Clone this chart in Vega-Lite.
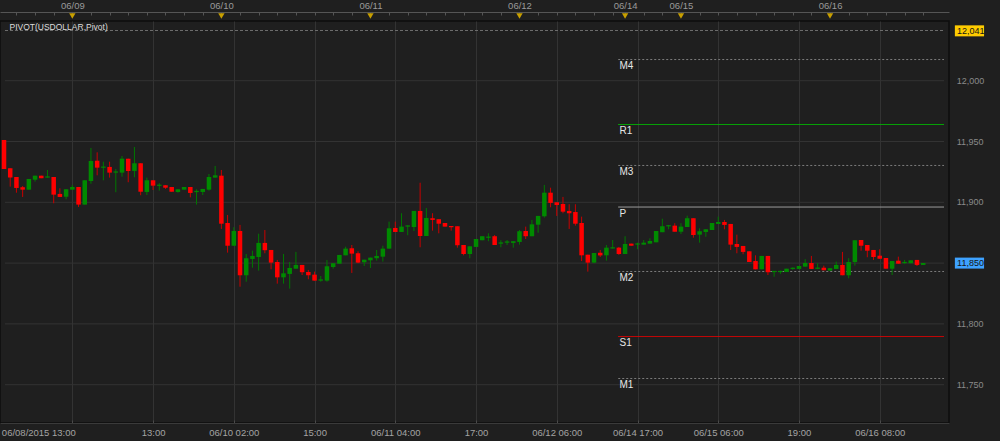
{
  "$schema": "https://vega.github.io/schema/vega-lite/v6.json",
  "width": 949,
  "height": 402,
  "autosize": {"type": "none"},
  "padding": {"left": 0, "top": 21, "right": 51, "bottom": 18},
  "background": "#1f1f1f",
  "config": {
    "view": {"stroke": "#0e0e0e", "strokeWidth": 1.5},
    "axis": {"labelFont": "Liberation Sans", "labelFontSize": 9.5, "labelColor": "#9a9a9a", "domainColor": "#505050", "tickColor": "#505050", "gridColor": "#333333", "gridWidth": 1, "labelOverlap": false, "labelFlush": false, "labelBound": false},
    "text": {"font": "Liberation Sans"}
  },
  "datasets": {
    "candles": [
      {"t":0,"o":11951.3,"h":11951.3,"l":11927.4,"c":11927.4},
      {"t":1,"o":11928.0,"h":11928.0,"l":11912.9,"c":11920.3},
      {"t":2,"o":11920.8,"h":11920.8,"l":11907.9,"c":11911.8},
      {"t":3,"o":11912.4,"h":11913.4,"l":11904.4,"c":11910.4},
      {"t":4,"o":11910.4,"h":11919.2,"l":11910.4,"c":11919.2},
      {"t":5,"o":11918.6,"h":11921.9,"l":11917.0,"c":11921.9},
      {"t":6,"o":11921.9,"h":11921.9,"l":11919.8,"c":11919.8},
      {"t":7,"o":11920.3,"h":11926.6,"l":11920.3,"c":11921.3},
      {"t":8,"o":11920.8,"h":11920.8,"l":11899.2,"c":11906.3},
      {"t":9,"o":11906.9,"h":11911.5,"l":11904.4,"c":11904.4},
      {"t":10,"o":11904.6,"h":11910.7,"l":11902.5,"c":11910.7},
      {"t":11,"o":11910.4,"h":11914.3,"l":11910.4,"c":11912.6},
      {"t":12,"o":11912.6,"h":11912.6,"l":11896.2,"c":11898.1},
      {"t":13,"o":11898.1,"h":11918.1,"l":11898.1,"c":11918.1},
      {"t":14,"o":11917.5,"h":11944.7,"l":11915.3,"c":11934.0},
      {"t":15,"o":11934.2,"h":11941.1,"l":11922.2,"c":11928.5},
      {"t":16,"o":11928.4,"h":11933.4,"l":11918.1,"c":11929.4},
      {"t":17,"o":11929.1,"h":11933.4,"l":11920.3,"c":11924.4},
      {"t":18,"o":11924.4,"h":11927.4,"l":11908.3,"c":11925.4},
      {"t":19,"o":11924.4,"h":11938.1,"l":11921.1,"c":11935.9},
      {"t":20,"o":11935.9,"h":11935.9,"l":11916.5,"c":11925.8},
      {"t":21,"o":11925.8,"h":11945.5,"l":11920.6,"c":11932.1},
      {"t":22,"o":11932.1,"h":11932.1,"l":11905.8,"c":11908.7},
      {"t":23,"o":11908.5,"h":11920.3,"l":11906.0,"c":11918.1},
      {"t":24,"o":11918.1,"h":11918.1,"l":11910.1,"c":11913.7},
      {"t":25,"o":11913.5,"h":11915.7,"l":11909.6,"c":11914.5},
      {"t":26,"o":11914.0,"h":11914.0,"l":11911.0,"c":11912.0},
      {"t":27,"o":11912.6,"h":11912.6,"l":11908.7,"c":11908.7},
      {"t":28,"o":11908.5,"h":11910.7,"l":11907.9,"c":11910.7},
      {"t":29,"o":11910.4,"h":11912.6,"l":11910.4,"c":11912.6},
      {"t":30,"o":11912.6,"h":11912.6,"l":11904.1,"c":11907.7},
      {"t":31,"o":11908.4,"h":11910.7,"l":11898.1,"c":11909.4},
      {"t":32,"o":11908.5,"h":11911.0,"l":11906.0,"c":11911.0},
      {"t":33,"o":11910.4,"h":11923.3,"l":11909.6,"c":11920.8},
      {"t":34,"o":11920.3,"h":11929.9,"l":11920.3,"c":11922.2},
      {"t":35,"o":11921.9,"h":11926.6,"l":11878.1,"c":11882.4},
      {"t":36,"o":11883.0,"h":11889.6,"l":11858.6,"c":11864.3},
      {"t":37,"o":11864.3,"h":11879.5,"l":11864.3,"c":11876.4},
      {"t":38,"o":11876.4,"h":11881.4,"l":11830.6,"c":11840.0},
      {"t":39,"o":11840.0,"h":11857.5,"l":11834.7,"c":11854.0},
      {"t":40,"o":11853.4,"h":11860.2,"l":11846.2,"c":11855.9},
      {"t":41,"o":11855.0,"h":11874.2,"l":11843.8,"c":11866.6},
      {"t":42,"o":11866.6,"h":11877.2,"l":11858.1,"c":11860.6},
      {"t":43,"o":11860.8,"h":11860.8,"l":11844.9,"c":11850.4},
      {"t":44,"o":11850.9,"h":11852.6,"l":11833.1,"c":11838.3},
      {"t":45,"o":11838.3,"h":11857.5,"l":11833.1,"c":11841.6},
      {"t":46,"o":11841.1,"h":11850.9,"l":11829.0,"c":11846.0},
      {"t":47,"o":11845.4,"h":11859.2,"l":11845.4,"c":11848.5},
      {"t":48,"o":11848.5,"h":11848.5,"l":11840.2,"c":11842.5},
      {"t":49,"o":11842.7,"h":11844.4,"l":11836.7,"c":11840.0},
      {"t":50,"o":11840.5,"h":11843.0,"l":11835.6,"c":11835.6},
      {"t":51,"o":11835.6,"h":11839.4,"l":11834.7,"c":11836.6},
      {"t":52,"o":11835.6,"h":11852.6,"l":11834.7,"c":11847.4},
      {"t":53,"o":11846.8,"h":11849.9,"l":11845.4,"c":11849.9},
      {"t":54,"o":11849.5,"h":11856.7,"l":11849.5,"c":11856.7},
      {"t":55,"o":11856.4,"h":11863.5,"l":11856.4,"c":11861.9},
      {"t":56,"o":11862.2,"h":11864.9,"l":11841.9,"c":11857.8},
      {"t":57,"o":11858.1,"h":11859.7,"l":11849.9,"c":11850.4},
      {"t":58,"o":11850.7,"h":11852.8,"l":11847.6,"c":11852.8},
      {"t":59,"o":11852.3,"h":11854.5,"l":11846.0,"c":11854.5},
      {"t":60,"o":11854.0,"h":11860.8,"l":11852.0,"c":11855.9},
      {"t":61,"o":11855.3,"h":11864.3,"l":11851.2,"c":11861.9},
      {"t":62,"o":11861.9,"h":11884.1,"l":11861.9,"c":11878.6},
      {"t":63,"o":11878.9,"h":11884.1,"l":11875.6,"c":11875.6},
      {"t":64,"o":11875.6,"h":11891.0,"l":11875.6,"c":11880.0},
      {"t":65,"o":11880.0,"h":11881.1,"l":11872.9,"c":11881.0},
      {"t":66,"o":11879.7,"h":11892.9,"l":11876.4,"c":11892.9},
      {"t":67,"o":11892.9,"h":11916.1,"l":11863.0,"c":11872.3},
      {"t":68,"o":11872.3,"h":11895.3,"l":11872.3,"c":11887.1},
      {"t":69,"o":11886.9,"h":11891.0,"l":11876.7,"c":11885.5},
      {"t":70,"o":11886.1,"h":11886.1,"l":11874.5,"c":11882.4},
      {"t":71,"o":11883.0,"h":11883.0,"l":11880.0,"c":11880.0},
      {"t":72,"o":11880.5,"h":11880.5,"l":11876.7,"c":11879.5},
      {"t":73,"o":11880.3,"h":11880.3,"l":11862.7,"c":11864.7},
      {"t":74,"o":11864.9,"h":11864.9,"l":11856.4,"c":11857.5},
      {"t":75,"o":11857.5,"h":11863.8,"l":11854.0,"c":11863.8},
      {"t":76,"o":11863.3,"h":11869.8,"l":11863.3,"c":11869.8},
      {"t":77,"o":11868.8,"h":11872.1,"l":11868.8,"c":11872.1},
      {"t":78,"o":11870.8,"h":11874.5,"l":11868.0,"c":11871.8},
      {"t":79,"o":11872.1,"h":11873.1,"l":11864.9,"c":11864.9},
      {"t":80,"o":11866.0,"h":11868.8,"l":11863.0,"c":11867.0},
      {"t":81,"o":11866.8,"h":11869.0,"l":11864.9,"c":11867.8},
      {"t":82,"o":11866.6,"h":11868.0,"l":11862.7,"c":11868.0},
      {"t":83,"o":11867.4,"h":11877.2,"l":11865.2,"c":11876.2},
      {"t":84,"o":11876.4,"h":11880.0,"l":11869.8,"c":11872.1},
      {"t":85,"o":11872.1,"h":11885.5,"l":11872.1,"c":11881.9},
      {"t":86,"o":11881.6,"h":11888.8,"l":11875.0,"c":11888.8},
      {"t":87,"o":11888.5,"h":11914.3,"l":11887.4,"c":11907.9},
      {"t":88,"o":11907.9,"h":11912.0,"l":11895.9,"c":11899.5},
      {"t":89,"o":11900.0,"h":11900.0,"l":11888.8,"c":11897.8},
      {"t":90,"o":11898.6,"h":11904.4,"l":11891.0,"c":11892.3},
      {"t":91,"o":11892.9,"h":11898.4,"l":11878.1,"c":11891.0},
      {"t":92,"o":11892.0,"h":11898.4,"l":11880.8,"c":11882.4},
      {"t":93,"o":11883.0,"h":11888.2,"l":11851.7,"c":11856.4},
      {"t":94,"o":11856.9,"h":11856.9,"l":11843.0,"c":11850.4},
      {"t":95,"o":11850.4,"h":11858.3,"l":11849.9,"c":11858.3},
      {"t":96,"o":11858.5,"h":11860.8,"l":11855.0,"c":11856.3},
      {"t":97,"o":11856.4,"h":11864.9,"l":11852.0,"c":11862.7},
      {"t":98,"o":11862.0,"h":11869.0,"l":11862.0,"c":11863.0},
      {"t":99,"o":11862.7,"h":11863.3,"l":11856.7,"c":11857.5},
      {"t":100,"o":11857.5,"h":11872.1,"l":11857.5,"c":11865.7},
      {"t":101,"o":11866.0,"h":11866.0,"l":11864.3,"c":11864.3},
      {"t":102,"o":11865.2,"h":11866.8,"l":11861.4,"c":11866.2},
      {"t":103,"o":11865.2,"h":11869.0,"l":11865.2,"c":11866.8},
      {"t":104,"o":11866.0,"h":11870.4,"l":11866.0,"c":11868.2},
      {"t":105,"o":11867.1,"h":11876.4,"l":11867.1,"c":11876.4},
      {"t":106,"o":11875.4,"h":11886.5,"l":11875.4,"c":11880.3},
      {"t":107,"o":11880.2,"h":11881.4,"l":11877.8,"c":11881.2},
      {"t":108,"o":11880.8,"h":11882.8,"l":11875.8,"c":11875.8},
      {"t":109,"o":11875.8,"h":11882.8,"l":11874.0,"c":11880.0},
      {"t":110,"o":11879.7,"h":11889.0,"l":11879.7,"c":11886.9},
      {"t":111,"o":11886.9,"h":11886.9,"l":11870.9,"c":11873.1},
      {"t":112,"o":11873.4,"h":11878.6,"l":11866.8,"c":11876.2},
      {"t":113,"o":11875.6,"h":11877.8,"l":11871.7,"c":11877.8},
      {"t":114,"o":11877.2,"h":11883.0,"l":11877.2,"c":11883.0},
      {"t":115,"o":11882.2,"h":11888.2,"l":11882.2,"c":11883.8},
      {"t":116,"o":11883.8,"h":11885.5,"l":11877.8,"c":11881.4},
      {"t":117,"o":11882.2,"h":11882.2,"l":11860.8,"c":11865.2},
      {"t":118,"o":11865.7,"h":11873.4,"l":11858.1,"c":11863.3},
      {"t":119,"o":11864.1,"h":11864.1,"l":11857.3,"c":11859.2},
      {"t":120,"o":11859.7,"h":11859.7,"l":11850.9,"c":11850.9},
      {"t":121,"o":11851.7,"h":11856.4,"l":11844.9,"c":11844.9},
      {"t":122,"o":11844.9,"h":11855.9,"l":11844.9,"c":11855.9},
      {"t":123,"o":11855.9,"h":11855.9,"l":11840.2,"c":11842.5},
      {"t":124,"o":11842.6,"h":11843.6,"l":11838.8,"c":11843.6},
      {"t":125,"o":11842.6,"h":11843.8,"l":11841.1,"c":11843.6},
      {"t":126,"o":11842.7,"h":11845.4,"l":11842.7,"c":11845.4},
      {"t":127,"o":11845.2,"h":11846.5,"l":11844.5,"c":11846.2},
      {"t":128,"o":11845.2,"h":11847.6,"l":11845.2,"c":11847.6},
      {"t":129,"o":11847.1,"h":11853.2,"l":11847.1,"c":11850.1},
      {"t":130,"o":11850.1,"h":11855.9,"l":11845.2,"c":11845.2},
      {"t":131,"o":11845.3,"h":11849.9,"l":11845.0,"c":11846.3},
      {"t":132,"o":11846.2,"h":11847.9,"l":11844.1,"c":11844.1},
      {"t":133,"o":11843.8,"h":11845.8,"l":11843.8,"c":11845.8},
      {"t":134,"o":11845.2,"h":11851.2,"l":11845.2,"c":11848.5},
      {"t":135,"o":11848.5,"h":11859.2,"l":11840.0,"c":11840.0},
      {"t":136,"o":11840.0,"h":11854.0,"l":11837.5,"c":11850.9},
      {"t":137,"o":11850.9,"h":11868.8,"l":11847.9,"c":11868.8},
      {"t":138,"o":11869.0,"h":11869.0,"l":11860.2,"c":11864.3},
      {"t":139,"o":11864.9,"h":11864.9,"l":11854.8,"c":11860.2},
      {"t":140,"o":11860.8,"h":11860.8,"l":11852.6,"c":11855.0},
      {"t":141,"o":11856.1,"h":11861.4,"l":11853.6,"c":11853.6},
      {"t":142,"o":11854.2,"h":11854.2,"l":11845.4,"c":11845.4},
      {"t":143,"o":11845.4,"h":11851.7,"l":11840.2,"c":11851.7},
      {"t":144,"o":11852.0,"h":11855.3,"l":11849.5,"c":11849.5},
      {"t":145,"o":11850.0,"h":11852.6,"l":11849.3,"c":11851.0},
      {"t":146,"o":11849.9,"h":11852.3,"l":11849.9,"c":11852.3},
      {"t":147,"o":11852.6,"h":11852.6,"l":11847.6,"c":11848.5},
      {"t":148,"o":11848.5,"h":11850.1,"l":11848.5,"c":11850.1}
    ],
    "pivots": [
      {"name":"M4","v":12017.4,"kind":"m"},
      {"name":"R1","v":11964.0,"kind":"r"},
      {"name":"M3","v":11930.3,"kind":"m"},
      {"name":"P","v":11896.1,"kind":"p"},
      {"name":"M2","v":11843.1,"kind":"m"},
      {"name":"S1","v":11789.6,"kind":"s"},
      {"name":"M1","v":11755.1,"kind":"m"}
    ],
    "ygrid": [{"v":11750},{"v":11800},{"v":11850},{"v":11900},{"v":11950},{"v":12000}],
    "topline": [{"v":12041.3,"label":"PIVOT(USDOLLAR,Pivot)"}],
    "tags": [
      {"v":12041,"label":"12,041","kind":"hi"},
      {"v":11850,"label":"11,850","kind":"last"}
    ],
    "days": [
      {"t":11,"d":"06/09"},{"t":35,"d":"06/10"},{"t":59,"d":"06/11"},{"t":83,"d":"06/12"},
      {"t":100,"d":"06/14"},{"t":109,"d":"06/15"},{"t":133,"d":"06/16"}
    ]
  },
  "layer": [
    {
      "data": {"name": "ygrid"},
      "mark": {"type": "rule", "color": "#333333", "strokeWidth": 1},
      "encoding": {
        "x": {"datum": 0.16, "type": "quantitative", "scale": {"domain": [0.16, 151.35], "nice": false, "zero": false}, "axis": null},
        "x2": {"datum": 151.35},
        "y": {"field": "v", "type": "quantitative", "title": null, "scale": {"domain": [11718.5, 12049.1], "nice": false, "zero": false},
          "axis": {"orient": "right", "offset": 10, "grid": false, "labels": false, "tickSize": -5, "domainColor": "#555555", "tickColor": "#555555",
            "values": [11720,11725,11730,11735,11740,11745,11750,11755,11760,11765,11770,11775,11780,11785,11790,11795,11800,11805,11810,11815,11820,11825,11830,11835,11840,11845,11850,11855,11860,11865,11870,11875,11880,11885,11890,11895,11900,11905,11910,11915,11920,11925,11930,11935,11940,11945,11950,11955,11960,11965,11970,11975,11980,11985,11990,11995,12000,12005,12010,12015,12020,12025,12030,12035,12040,12045]}}
      }
    },
    {
      "data": {"name": "ygrid"},
      "mark": {"type": "text", "align": "left", "baseline": "middle", "fontSize": 9, "color": "#8a8a8a"},
      "encoding": {
        "x": {"datum": 153.4, "type": "quantitative", "scale": {"domain": [0.16, 151.35], "nice": false, "zero": false}, "axis": null},
        "y": {"field": "v", "type": "quantitative", "scale": {"domain": [11718.5, 12049.1], "nice": false, "zero": false}, "axis": null},
        "text": {"field": "v", "type": "quantitative", "format": ","}
      }
    },
    {
      "data": {"name": "topline"},
      "mark": {"type": "rule", "color": "#6e6e6e", "strokeDash": [3, 2], "strokeWidth": 1},
      "encoding": {
        "x": {"datum": 0.16, "type": "quantitative", "scale": {"domain": [0.16, 151.35], "nice": false, "zero": false}, "axis": null},
        "x2": {"datum": 151.35},
        "y": {"field": "v", "type": "quantitative", "scale": {"domain": [11718.5, 12049.1], "nice": false, "zero": false}, "axis": null}
      }
    },
    {
      "data": {"name": "topline"},
      "mark": {"type": "text", "align": "left", "baseline": "middle", "fontSize": 8.5, "color": "#dcdcdc"},
      "encoding": {
        "x": {"datum": 0.88, "type": "quantitative", "scale": {"domain": [0.16, 151.35], "nice": false, "zero": false}, "axis": null},
        "y": {"datum": 12044.2, "type": "quantitative", "scale": {"domain": [11718.5, 12049.1], "nice": false, "zero": false}, "axis": null},
        "text": {"field": "label"}
      }
    },
    {
      "data": {"name": "pivots"},
      "mark": {"type": "rule"},
      "encoding": {
        "x": {"datum": 98.9, "type": "quantitative", "scale": {"domain": [0.16, 151.35], "nice": false, "zero": false}, "axis": null},
        "x2": {"datum": 151.35},
        "y": {"field": "v", "type": "quantitative", "scale": {"domain": [11718.5, 12049.1], "nice": false, "zero": false}, "axis": null},
        "color": {"field": "kind", "type": "nominal", "legend": null, "scale": {"domain": ["m", "r", "p", "s"], "range": ["#7c7c7c", "#00c000", "#a8a8a8", "#e80000"]}},
        "strokeDash": {"field": "kind", "type": "nominal", "legend": null, "scale": {"domain": ["m", "r", "p", "s"], "range": [[2, 2], [1, 0], [1, 0], [1, 0]]}},
        "size": {"field": "kind", "type": "nominal", "legend": null, "scale": {"domain": ["m", "r", "p", "s"], "range": [1, 1, 2, 1]}}
      }
    },
    {
      "data": {"name": "pivots"},
      "mark": {"type": "text", "align": "left", "baseline": "top", "dy": 1.5, "fontSize": 10, "color": "#e6e6e6"},
      "encoding": {
        "x": {"datum": 99.1, "type": "quantitative", "scale": {"domain": [0.16, 151.35], "nice": false, "zero": false}, "axis": null},
        "y": {"field": "v", "type": "quantitative", "scale": {"domain": [11718.5, 12049.1], "nice": false, "zero": false}, "axis": null},
        "text": {"field": "name"}
      }
    },
    {
      "data": {"name": "candles"},
      "mark": {"type": "rule", "strokeWidth": 1},
      "encoding": {
        "x": {"field": "t", "type": "quantitative", "title": null, "scale": {"domain": [0.16, 151.35], "nice": false, "zero": false},
          "axis": {"orient": "bottom", "grid": true, "tickSize": -3, "labelPadding": 7.5, "labelBaseline": "top", "domainColor": "#3a3a3a", "tickColor": "#4a4a4a", "labelColor": "#a4a4a4",
            "values": [11,24,37,50,63,76,89,102,115,128,141],
            "labelExpr": "datum.value == 11 ? '06/08/2015 13:00' : datum.value == 24 ? '13:00' : datum.value == 37 ? '06/10 02:00' : datum.value == 50 ? '15:00' : datum.value == 63 ? '06/11 04:00' : datum.value == 76 ? '17:00' : datum.value == 89 ? '06/12 06:00' : datum.value == 102 ? '06/14 17:00' : datum.value == 115 ? '06/15 06:00' : datum.value == 128 ? '19:00' : datum.value == 141 ? '06/16 08:00' : ''",
            "labelAlign": {"condition": {"test": "datum.value == 11", "value": "right"}, "value": "center"},
            "labelOffset": {"condition": {"test": "datum.value == 11", "value": 3}, "value": 0}}},
        "y": {"field": "l", "type": "quantitative", "scale": {"domain": [11718.5, 12049.1], "nice": false, "zero": false}, "axis": null},
        "y2": {"field": "h"},
        "color": {"condition": {"test": "datum.c >= datum.o", "value": "#007800"}, "value": "#c80000"}
      }
    },
    {
      "data": {"name": "candles"},
      "mark": {"type": "bar", "size": 4.5},
      "encoding": {
        "x": {"field": "t", "type": "quantitative", "title": null, "scale": {"domain": [0.16, 151.35], "nice": false, "zero": false},
          "axis": {"orient": "top", "offset": 9, "tickSize": -3, "labelPadding": 5, "grid": false, "domainColor": "#555555", "tickColor": "#555555", "labelColor": "#9a9a9a",
            "values": [2,5,8,11,14,17,20,23,26,29,32,35,38,41,44,47,50,53,56,59,62,65,68,71,74,77,80,83,86,89,92,95,98,100,103,106,109,112,115,118,121,124,127,130,133,136,139,142,145,148],
            "labelExpr": "datum.value == 11 ? '06/09' : datum.value == 35 ? '06/10' : datum.value == 59 ? '06/11' : datum.value == 83 ? '06/12' : datum.value == 100 ? '06/14' : datum.value == 109 ? '06/15' : datum.value == 133 ? '06/16' : ''"}},
        "y": {"field": "o", "type": "quantitative", "scale": {"domain": [11718.5, 12049.1], "nice": false, "zero": false}, "axis": null},
        "y2": {"field": "c"},
        "color": {"condition": {"test": "datum.c >= datum.o", "value": "#008a00"}, "value": "#ff0000"}
      }
    },
    {
      "data": {"name": "days"},
      "mark": {"type": "point", "shape": "triangle-down", "filled": true, "size": 40, "color": "#c9a000", "opacity": 1, "yOffset": -5},
      "encoding": {
        "x": {"field": "t", "type": "quantitative", "scale": {"domain": [0.16, 151.35], "nice": false, "zero": false}, "axis": null},
        "y": {"datum": 12049.1, "type": "quantitative", "scale": {"domain": [11718.5, 12049.1], "nice": false, "zero": false}, "axis": null}
      }
    },
    {
      "data": {"name": "tags"},
      "mark": {"type": "rect", "yOffset": -5.5, "y2Offset": 5.5},
      "encoding": {
        "x": {"datum": 153.1, "type": "quantitative", "scale": {"domain": [0.16, 151.35], "nice": false, "zero": false}, "axis": null},
        "x2": {"datum": 157.8},
        "y": {"field": "v", "type": "quantitative", "scale": {"domain": [11718.5, 12049.1], "nice": false, "zero": false}, "axis": null},
        "y2": {"field": "v"},
        "color": {"condition": {"test": "datum.kind == 'hi'", "value": "#ffcc00"}, "value": "#3ea2ff"}
      }
    },
    {
      "data": {"name": "tags"},
      "mark": {"type": "text", "align": "left", "baseline": "middle", "fontSize": 9, "color": "#151515"},
      "encoding": {
        "x": {"datum": 153.45, "type": "quantitative", "scale": {"domain": [0.16, 151.35], "nice": false, "zero": false}, "axis": null},
        "y": {"field": "v", "type": "quantitative", "scale": {"domain": [11718.5, 12049.1], "nice": false, "zero": false}, "axis": null},
        "text": {"field": "label"}
      }
    }
  ],
  "resolve": {"axis": {"x": "independent"}}
}
